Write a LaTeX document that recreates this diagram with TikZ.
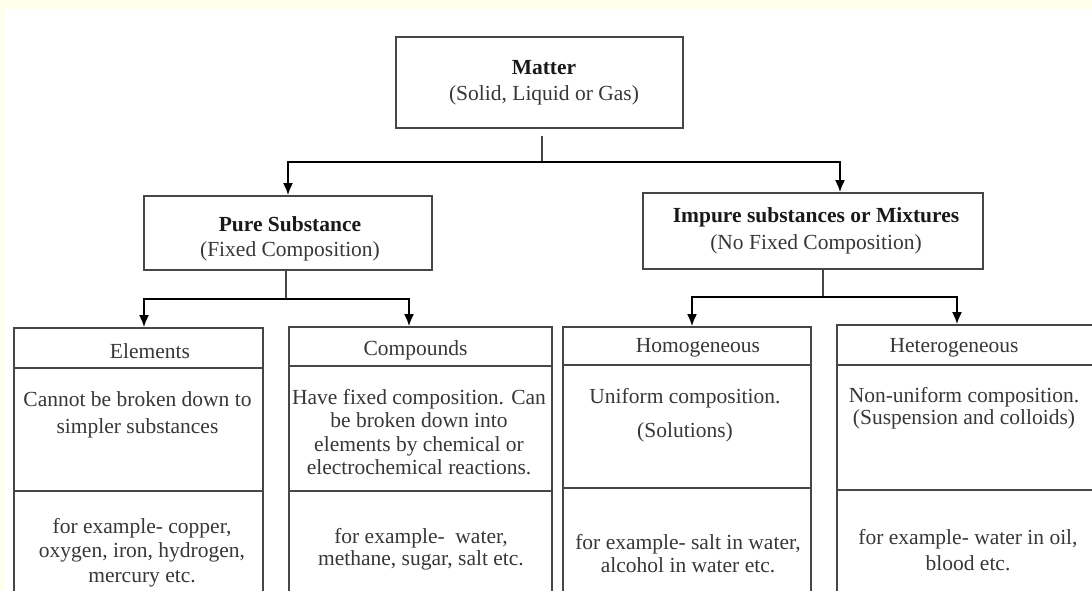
\documentclass[tikz,border=0pt]{standalone}
\usepackage{fontspec}
\setmainfont{Liberation Serif}
\usetikzlibrary{arrows.meta}
\definecolor{cream}{RGB}{255,255,238}
\definecolor{linec}{RGB}{70,70,70}
\definecolor{txt}{RGB}{55,55,55}
\definecolor{ttl}{RGB}{25,25,25}
\begin{document}
\begin{tikzpicture}[x=1pt,y=-1pt,
  box/.style={draw=linec, line width=1.8pt, fill=white, inner sep=0pt},
  lbl/.style={text=txt, align=center, inner sep=0pt},
  arr/.style={draw=black, line width=1.8pt, -{Latex[length=12pt,width=10pt]}},
  ln/.style={draw=linec, line width=1.8pt}]
\useasboundingbox (0,0) rectangle (1092,590);
\clip (0,0) rectangle (1092,590);
\fill[cream] (0,0) rectangle (1092,590);
\fill[white] (5,9) rectangle (1092,590);

% top level boxes
\node[box, minimum width=287pt, minimum height=91pt] (matter) at (539.5,82.5) {};
\node[box, minimum width=288pt, minimum height=74pt] (pure) at (288,233) {};
\node[box, minimum width=340pt, minimum height=76pt] (impure) at (813,231) {};

\node[lbl, font=\fontsize{21.5}{26}\selectfont] (tmatter) at (544,83)
  {\textcolor{ttl}{\textbf{Matter}}\\(Solid, Liquid or Gas)};
\node[lbl, font=\fontsize{21.5}{25}\selectfont] (tpure) at (290,238.5)
  {\textcolor{ttl}{\textbf{Pure Substance}}\\(Fixed Composition)};
\node[lbl, font=\fontsize{21.5}{27}\selectfont] (timpure) at (816,230.5)
  {\textcolor{ttl}{\textbf{Impure substances or Mixtures}}\\(No Fixed Composition)};

% Elements column
\node[box, minimum width=249pt, minimum height=40pt] (elem) at (138.5,348) {};
\node[box, minimum width=249pt, minimum height=123pt] (elemb) at (138.5,429.5) {};
\node[box, minimum width=249pt, minimum height=129pt] (eleme) at (138.5,555.5) {};
\node[lbl, font=\fontsize{21.5}{26}\selectfont] (telem) at (150,351) {Elements};
\node[lbl, font=\fontsize{21.5}{27}\selectfont] (telemb) at (137.5,414.5)
  {Cannot be broken down to\\simpler substances};
\node[lbl, font=\fontsize{21.5}{24.5}\selectfont] (teleme) at (142,552.5)
  {for example- copper,\\oxygen, iron, hydrogen,\\mercury etc.};

% Compounds column
\node[box, minimum width=263pt, minimum height=39pt] (comp) at (420.5,346.5) {};
\node[box, minimum width=263pt, minimum height=125pt] (compb) at (420.5,428.5) {};
\node[box, minimum width=263pt, minimum height=129pt] (compe) at (420.5,555.5) {};
\node[lbl, font=\fontsize{21.5}{26}\selectfont] (tcomp) at (415.5,350) {Compounds};
\node[lbl, font=\fontsize{21.5}{23.3}\selectfont] (tcompb) at (419,432)
  {Have fixed composition. Can\\be broken down into\\elements by chemical or\\electrochemical reactions.};
\node[lbl, font=\fontsize{21.5}{22}\selectfont] (tcompe) at (421,549)
  {for example-~~water,\\methane, sugar, salt etc.};

% Homogeneous column
\node[box, minimum width=248pt, minimum height=38pt] (homo) at (687,346) {};
\node[box, minimum width=248pt, minimum height=123pt] (homob) at (687,426.5) {};
\node[box, minimum width=248pt, minimum height=132pt] (homoe) at (687,554) {};
\node[lbl, font=\fontsize{21.5}{26}\selectfont] (thomo) at (698,348) {Homogeneous};
\node[lbl, font=\fontsize{21.5}{34}\selectfont] (thomob) at (685,415)
  {Uniform composition.\\(Solutions)};
\node[lbl, font=\fontsize{21.5}{23}\selectfont] (thomoe) at (688,553.5)
  {for example- salt in water,\\alcohol in water etc.};

% Heterogeneous column
\node[box, minimum width=273pt, minimum height=40pt] (het) at (973.5,345) {};
\node[box, minimum width=273pt, minimum height=125pt] (hetb) at (973.5,427.5) {};
\node[box, minimum width=273pt, minimum height=130pt] (hete) at (973.5,555) {};
\node[lbl, font=\fontsize{21.5}{26}\selectfont] (thet) at (954,348) {Heterogeneous};
\node[lbl, font=\fontsize{21.5}{22}\selectfont] (thetb) at (964,408)
  {Non-uniform composition.\\(Suspension and colloids)};
\node[lbl, font=\fontsize{21.5}{26}\selectfont] (thete) at (968,550)
  {for example- water in oil,\\blood etc.};

% connectors
\coordinate (j0) at (542,162);
\coordinate (j1) at (286,299);
\coordinate (j2) at (823,297);
\draw[ln, shorten <=7pt] (matter.south -| j0) -- (j0);
\draw[arr] (j0) -| (pure.north -| 288,0);
\draw[arr] (j0) -| (impure.north -| 840,0);
\draw[ln] (pure.south -| j1) -- (j1);
\draw[arr] (j1) -| (elem.north -| 144,0);
\draw[arr] (j1) -| (comp.north -| 409,0);
\draw[ln] (impure.south -| j2) -- (j2);
\draw[arr] (j2) -| (homo.north -| 692,0);
\draw[arr] (j2) -| (het.north -| 957,0);
\end{tikzpicture}
\end{document}
